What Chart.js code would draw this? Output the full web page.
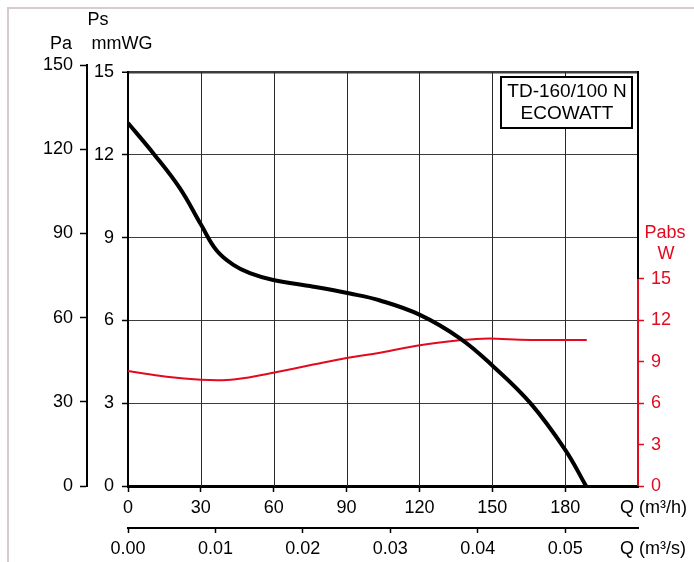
<!DOCTYPE html>
<html>
<head>
<meta charset="utf-8">
<title>TD-160/100 N ECOWATT</title>
<script src="https://cdn.jsdelivr.net/npm/chart.js@4.4.1/dist/chart.umd.min.js"></script>
<style>
  html, body { margin: 0; padding: 0; background: #fff; }
  canvas { display: block; }
</style>
</head>
<body>
<canvas id="curve" width="694" height="562"></canvas>
<script>
// axis ticks
const flowTicks = [0, 30, 60, 90, 120, 150, 180];
const flowMax = 210;
const flowSecTicks = [0, 0.01, 0.02, 0.03, 0.04, 0.05];
const paTicks = [0, 30, 60, 90, 120, 150];
const mmTicks = [0, 3, 6, 9, 12, 15];
const wTicks = [0, 3, 6, 9, 12, 15];

// static pressure: Q (m3/h) -> Ps (Pa)
const psFlow = [0, 10.7, 21.4, 30.1, 36.5, 43.4, 50.2, 59.8, 76.3, 91.4, 103.8, 120.2, 136.7, 150.2, 165.7, 180.1, 188.6];
const psPa = [131.5, 120.2, 107.8, 94.6, 85.3, 80.1, 77.1, 74.6, 72.2, 69.7, 67.2, 62.0, 53.5, 43.5, 30.0, 13.0, 0];

// absorbed power: Q (m3/h) -> Pabs (W)
const pwFlow = [0, 15.9, 30, 40.6, 50.2, 59.8, 76.3, 90, 103.8, 120.2, 136.7, 146, 152, 161.4, 175, 188.9];
const pwWatt = [8.33, 7.92, 7.7, 7.68, 7.88, 8.2, 8.8, 9.28, 9.66, 10.2, 10.56, 10.67, 10.67, 10.6, 10.58, 10.58];

const red = '#e30a1f';
const family = "'Liberation Sans', Arial, sans-serif";
const tickFont = { family: family, size: 18 };

const onlyTicks = (list) => (scale) => {
  scale.ticks = list.map(v => ({ value: v }));
};

// frame, vertical grid, axis titles and model box
const chartFrame = {
  id: 'chartFrame',
  beforeDraw(chart) {
    const { ctx, width, height } = chart;
    ctx.save();
    ctx.fillStyle = '#fff';
    ctx.fillRect(0, 0, width, height);
    ctx.strokeStyle = '#d9cacd';
    ctx.lineWidth = 2;
    ctx.beginPath();
    ctx.moveTo(8, height);
    ctx.lineTo(8, 8);
    ctx.lineTo(width, 8);
    ctx.stroke();
    ctx.restore();
  },
  beforeDatasetsDraw(chart) {
    const { ctx, scales: { x, y, w } } = chart;
    const top = y.getPixelForValue(15);
    const bottom = y.getPixelForValue(0);
    const left = x.getPixelForValue(0);
    const right = x.getPixelForValue(flowMax);
    const wTop = w.getPixelForValue(15);
    ctx.save();
    ctx.strokeStyle = '#2a2a2a';
    ctx.lineWidth = 1;
    flowTicks.slice(1).forEach(q => {
      const px = Math.round(x.getPixelForValue(q)) + 0.5;
      ctx.beginPath();
      ctx.moveTo(px, top);
      ctx.lineTo(px, bottom);
      ctx.stroke();
    });
    ctx.strokeStyle = '#000';
    ctx.lineWidth = 2;
    ctx.beginPath();
    ctx.moveTo(left, top - 1);
    ctx.lineTo(left, bottom);
    ctx.moveTo(right, top - 1);
    ctx.lineTo(right, wTop);
    ctx.stroke();
    ctx.strokeStyle = red;
    ctx.beginPath();
    ctx.moveTo(right, wTop);
    ctx.lineTo(right, bottom);
    ctx.stroke();
    ctx.restore();
  },
  afterDatasetsDraw(chart) {
    const { ctx } = chart;
    ctx.save();
    // model box
    ctx.fillStyle = '#fff';
    ctx.fillRect(501, 77, 131, 51);
    ctx.strokeStyle = '#000';
    ctx.lineWidth = 2;
    ctx.strokeRect(501, 77, 131, 51);
    ctx.fillStyle = '#000';
    ctx.textAlign = 'center';
    ctx.textBaseline = 'middle';
    ctx.font = '19px ' + family;
    ctx.fillText('TD-160/100 N', 567, 92);
    ctx.fillText('ECOWATT', 567, 114);
    // axis titles
    ctx.font = '18px ' + family;
    ctx.fillText('Ps', 98, 20);
    ctx.fillText('Pa', 61, 44);
    ctx.fillText('mmWG', 122, 44);
    ctx.fillStyle = red;
    ctx.fillText('Pabs', 665, 233);
    ctx.fillText('W', 666, 254);
    ctx.fillStyle = '#000';
    ctx.textAlign = 'left';
    ctx.fillText('Q (m³/h)', 620, 508);
    ctx.fillText('Q (m³/s)', 620, 549);
    ctx.restore();
  }
};

new Chart(document.getElementById('curve'), {
  type: 'line',
  data: {
    datasets: [
      {
        label: 'Ps',
        data: psFlow.map((q, i) => ({ x: q, y: psPa[i] / 10 })),
        xAxisID: 'x',
        yAxisID: 'y',
        borderColor: '#000',
        borderWidth: 4,
        pointRadius: 0,
        tension: 0.4
      },
      {
        label: 'Pabs',
        data: pwFlow.map((q, i) => ({ x: q, y: pwWatt[i] })),
        xAxisID: 'x',
        yAxisID: 'w',
        borderColor: red,
        borderWidth: 2,
        pointRadius: 0,
        tension: 0.4
      }
    ]
  },
  options: {
    responsive: false,
    devicePixelRatio: 1,
    animation: false,
    layout: { padding: { top: 65, left: 0, right: 0, bottom: 0 } },
    plugins: {
      legend: { display: false },
      tooltip: { enabled: false }
    },
    scales: {
      x: {
        type: 'linear',
        position: 'bottom',
        weight: 0,
        min: 0,
        max: flowMax,
        afterBuildTicks: onlyTicks(flowTicks),
        afterFit: s => { s.height = 42; },
        grid: { drawOnChartArea: false, tickLength: 6, tickColor: '#000', tickWidth: 1.5 },
        border: { display: true, width: 3, color: '#000' },
        ticks: { padding: 5, color: '#000', font: tickFont, maxRotation: 0 }
      },
      x2: {
        type: 'linear',
        position: 'bottom',
        weight: 1,
        min: 0,
        max: flowMax / 3600,
        afterBuildTicks: onlyTicks(flowSecTicks),
        afterFit: s => { s.height = 34; },
        grid: { drawOnChartArea: false, tickLength: 5, tickColor: '#000', tickWidth: 1.5 },
        border: { display: true, width: 2, color: '#000' },
        ticks: { padding: 5, color: '#000', font: tickFont, maxRotation: 0, callback: v => v.toFixed(2) }
      },
      y: {
        position: 'left',
        weight: 0,
        min: 0,
        max: 15.25,
        afterBuildTicks: onlyTicks(mmTicks),
        afterFit: s => { s.width = 41; },
        grid: {
          color: '#3c3c3c',
          lineWidth: c => (c.tick && c.tick.value === 15 ? 2.5 : 1),
          tickLength: 6,
          tickColor: '#000',
          tickWidth: 1.5
        },
        border: { display: false },
        ticks: { padding: 8, color: '#000', font: tickFont }
      },
      pa: {
        position: 'left',
        weight: 1,
        min: 0,
        max: 150,
        afterBuildTicks: onlyTicks(paTicks),
        afterFit: s => { s.width = 87; },
        grid: { drawOnChartArea: false, tickLength: 7, tickColor: '#000', tickWidth: 1.5 },
        border: { display: true, width: 2, color: '#000' },
        ticks: { padding: 7, color: '#000', font: tickFont }
      },
      w: {
        position: 'right',
        min: 0,
        max: 30.5,
        afterBuildTicks: onlyTicks(wTicks),
        afterFit: s => { s.width = 56; },
        grid: { drawOnChartArea: false, tickLength: 6, tickColor: red, tickWidth: 1.5 },
        border: { display: false },
        ticks: { padding: 7, color: red, font: tickFont }
      }
    }
  },
  plugins: [chartFrame]
});
</script>
</body>
</html>
